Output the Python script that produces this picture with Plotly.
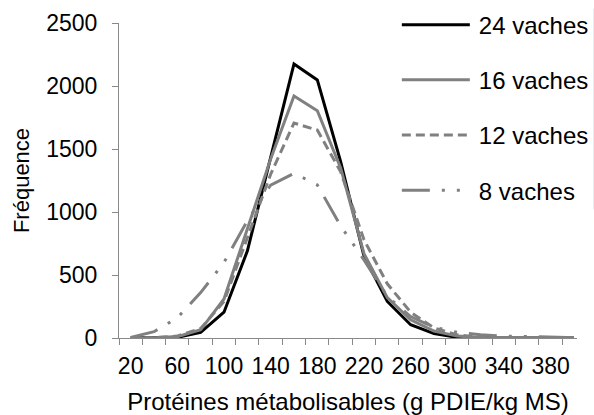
import plotly.graph_objects as go

# Data
categories = [20, 40, 60, 80, 100, 120, 140, 160, 180, 200, 220, 240, 260, 280, 300, 320, 340, 360, 380, 400]
vaches24 = [0, 0, 5, 45, 205, 690, 1440, 2175, 2048, 1400, 650, 290, 105, 35, 5, 0, 0, 0, 0, 0]
vaches16 = [0, 2, 10, 65, 310, 860, 1420, 1921, 1804, 1350, 670, 320, 145, 55, 15, 3, 0, 0, 0, 0]
vaches12 = [0, 3, 15, 75, 290, 790, 1300, 1706, 1650, 1320, 780, 430, 205, 80, 25, 6, 2, 0, 0, 0]
vaches8 = [5, 50, 160, 360, 600, 930, 1214, 1307, 1215, 890, 620, 330, 170, 85, 45, 25, 15, 12, 8, 3]
x_ticklabels = [20, 60, 100, 140, 180, 220, 260, 300, 340, 380]
x_tickmarks = [10 + 20 * k for k in range(20)]  # boundaries between categories
y_ticks = [0, 500, 1000, 1500, 2000, 2500]

FONT = "Arial, Liberation Sans, sans-serif"
GRAY = "#808080"
AXIS = "#898989"
XRANGE = [10, 402.6]

series = [
    ("24 vaches", vaches24, "#000000", "solid"),
    ("16 vaches", vaches16, GRAY, "solid"),
    ("12 vaches", vaches12, GRAY, "9px,5px"),
    ("8 vaches", vaches8, GRAY, "28px,12px,3px,12px,3px,12px"),
]

fig = go.Figure()
for i, (name, vals, color, dash) in enumerate(series):
    fig.add_trace(go.Scatter(
        x=categories, y=vals, mode="lines", name=name,
        line=dict(color=color, width=3, dash=dash),
        legendgroup=f"g{i}",
    ))

# invisible helper trace so the label axis (xaxis2) is drawn
fig.add_trace(go.Scatter(
    x=categories, y=vaches24, mode="lines", xaxis="x2", yaxis="y",
    line=dict(color="rgba(0,0,0,0)", width=0), showlegend=False, hoverinfo="skip",
))

fig.update_layout(
    width=594, height=415,
    margin=dict(l=119, r=0, t=23, b=77),
    paper_bgcolor="white", plot_bgcolor="white",
    font=dict(family=FONT, size=23, color="#000000"),
    showlegend=True,
    legend=dict(
        x=0.611, y=1.065, xanchor="left", yanchor="top",
        bgcolor="rgba(0,0,0,0)",
        font=dict(family=FONT, size=24, color="#000000"),
        tracegroupgap=21, itemwidth=70,
    ),
    xaxis=dict(
        range=XRANGE,
        tickmode="array", tickvals=x_tickmarks,
        ticktext=["" for _ in x_tickmarks],
        ticks="outside", ticklen=6, tickcolor=AXIS, tickwidth=1,
        showgrid=False, zeroline=False,
        showline=True, linecolor=AXIS, linewidth=1,
        title=dict(text="Protéines métabolisables (g PDIE/kg MS)",
                   font=dict(family=FONT, size=24), standoff=47),
    ),
    xaxis2=dict(
        range=XRANGE, overlaying="x", anchor="y", side="bottom",
        tickmode="array", tickvals=x_ticklabels,
        ticktext=[str(v) for v in x_ticklabels],
        tickfont=dict(family=FONT, size=23),
        ticks="outside", ticklen=6, tickcolor="rgba(0,0,0,0)",
        ticklabelstandoff=1,
        showgrid=False, zeroline=False, showline=False,
    ),
    yaxis=dict(
        range=[0, 2500],
        tickmode="array", tickvals=y_ticks,
        tickfont=dict(family=FONT, size=23),
        ticks="outside", ticklen=6, tickcolor=AXIS, tickwidth=1,
        showgrid=False, zeroline=False,
        showline=True, linecolor=AXIS, linewidth=1,
        ticklabelstandoff=10,
        title=dict(text="Fréquence", font=dict(family=FONT, size=22), standoff=10),
    ),
)

post = """
document.body.style.margin = '0';
var gd = document.getElementsByClassName('plotly-graph-div')[0];
function longLegend() {
  var paths = gd.querySelectorAll('.legend .legendlines path');
  paths.forEach(function(p) { p.setAttribute('d', 'M3,0h68'); });
}
longLegend();
gd.on('plotly_afterplot', longLegend);
"""

fig.write_html("out.html", post_script=post, config={"displayModeBar": False})
